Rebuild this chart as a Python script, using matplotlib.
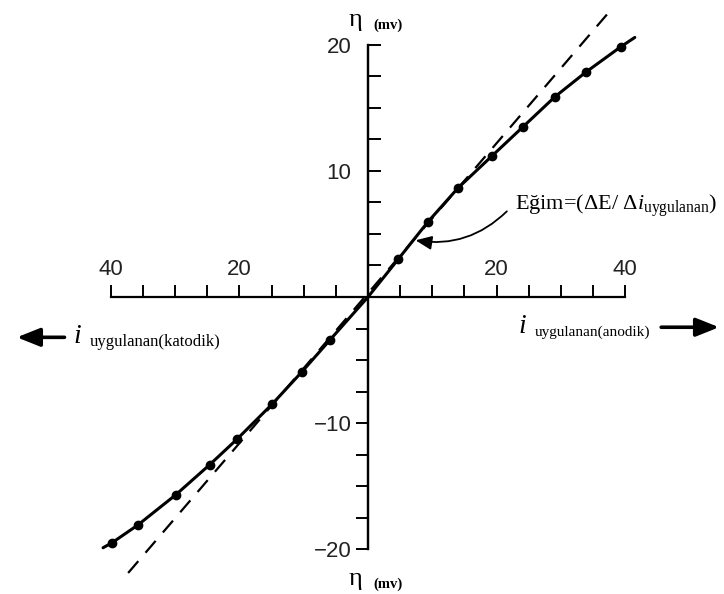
import matplotlib.pyplot as plt
import numpy as np

plt.rcParams['mathtext.fontset'] = 'custom'
plt.rcParams['mathtext.rm'] = 'Liberation Serif'
plt.rcParams['mathtext.it'] = 'Liberation Serif:italic'

# measured points (applied current, overpotential mV)
anodic_i = [4.7, 9.3, 14.0, 19.3, 24.1, 29.1, 33.9, 39.3]
anodic_eta = [3.0, 5.95, 8.65, 11.2, 13.5, 15.9, 17.85, 19.85]
cathodic_i = [-5.9, -10.3, -14.9, -20.4, -24.6, -29.9, -35.8, -39.8]
cathodic_eta = [-3.4, -5.95, -8.5, -11.3, -13.3, -15.7, -18.1, -19.5]

# ends of the drawn curve
curve_start = (-41.2, -19.9)
curve_end = (41.5, 20.6)

# tangent line at origin
tangent_i = [-37.3, 37.3]
tangent_eta = [-21.9, 22.5]

xticks = [-40, -35, -30, -25, -20, -15, -10, -5, 5, 10, 15, 20, 25, 30, 35, 40]
xlabels = ['40', '', '', '', '20', '', '', '', '', '', '', '20', '', '', '', '40']
yticks = [-20, -17.5, -15, -12.5, -10, -7.5, -5, -2.5, 2.5, 5, 7.5, 10, 12.5, 15, 17.5, 20]
ylabels = ['\u221220', '', '', '', '\u221210', '', '', '', '', '', '', '10', '', '', '', '20']

fig = plt.figure(figsize=(7.24, 5.94), dpi=100)
ax = fig.add_axes([0, 0, 1, 1])
ax.set_xlim(-57.23, 55.37)
ax.set_ylim(-23.57, 23.57)

# curve through the points
cx = [curve_start[0]] + cathodic_i[::-1] + [0] + anodic_i + [curve_end[0]]
cy = [curve_start[1]] + cathodic_eta[::-1] + [0] + anodic_eta + [curve_end[1]]
ax.plot(cx, cy, color='black', lw=2.2, solid_capstyle='round', zorder=3)
ax.plot(anodic_i + cathodic_i, anodic_eta + cathodic_eta, 'o', color='black',
        ms=6, zorder=4)
ax.plot(tangent_i, tangent_eta, color='black', lw=1.6, dashes=(7, 5), zorder=2)

# axes crossing at origin
ax.spines['bottom'].set_visible(False)
ax.spines['top'].set_position(('data', 0))
ax.spines['top'].set_bounds(-40, 40)
ax.spines['left'].set_position(('data', 0))
ax.spines['left'].set_bounds(-20, 20)
ax.spines['right'].set_position(('data', 0))
ax.spines['right'].set_bounds(-20, 20)
for s in ['top', 'left', 'right']:
    ax.spines[s].set_linewidth(1.6)

ax.xaxis.set_ticks_position('top')
ax.set_xticks(xticks)
ax.set_xticklabels(xlabels)
ax.tick_params(axis='x', direction='out', length=9, width=1.4, pad=3,
               labelsize=16, labeltop=True, labelbottom=False)

ax.yaxis.set_ticks_position('both')
ax.set_yticks(yticks)
ax.set_yticklabels(ylabels)
ax.tick_params(axis='y', direction='out', length=9, width=1.4, pad=3,
               labelsize=16, labelleft=True, labelright=False)
for v, t in zip(yticks, ax.yaxis.get_major_ticks()):
    if v > 0:
        t.tick1line.set_visible(False)
    else:
        t.tick2line.set_visible(False)

for lab in ax.get_xticklabels() + ax.get_yticklabels():
    lab.set_fontfamily('Liberation Sans')
    lab.set_color('#222222')

# axis titles
serif = 'Liberation Serif'
ax.text(-1.9, 22.0, '\u03b7', fontsize=19, family=serif, ha='center', va='center')
ax.text(0.9, 21.6, '(mv)', fontsize=10.5, family=serif, weight='bold', ha='left', va='center')
ax.text(-1.9, -22.4, '\u03b7', fontsize=19, family=serif, ha='center', va='center')
ax.text(0.9, -22.8, '(mv)', fontsize=10.5, family=serif, weight='bold', ha='left', va='center')

ax.text(-45.8, -3.1, 'i', fontsize=20, family=serif, style='italic', ha='left', va='center')
ax.text(-43.3, -3.55, 'uygulanan(katodik)', fontsize=12, family=serif, ha='left', va='center')
ax.text(23.4, -2.35, 'i', fontsize=20, family=serif, style='italic', ha='left', va='center')
ax.text(26.0, -2.8, 'uygulanan(anodik)', fontsize=11, family=serif, ha='left', va='center')

arrow = dict(arrowstyle='-|>,head_length=1.0,head_width=0.4', color='black',
             lw=2.6, mutation_scale=14, shrinkA=0, shrinkB=0)
ax.annotate('', xy=(-54.6, -3.2), xytext=(-47.2, -3.2), arrowprops=arrow)
ax.annotate('', xy=(54.6, -2.4), xytext=(45.6, -2.4), arrowprops=arrow)

ax.text(22.9, 7.25, 'Eğim=(\u0394E/ \u0394$\\mathit{i}_{\\mathrm{uygulanan}}$)',
        fontsize=16, family=serif, ha='left', va='center')
ax.annotate('', xy=(7.4, 4.5), xytext=(21.6, 6.8),
            arrowprops=dict(arrowstyle='-|>,head_length=0.7,head_width=0.3',
                            color='black', lw=1.3, mutation_scale=14,
                            shrinkA=0, shrinkB=0,
                            connectionstyle='arc3,rad=-0.25'))

fig.savefig('out.png', dpi=100, facecolor='white')
